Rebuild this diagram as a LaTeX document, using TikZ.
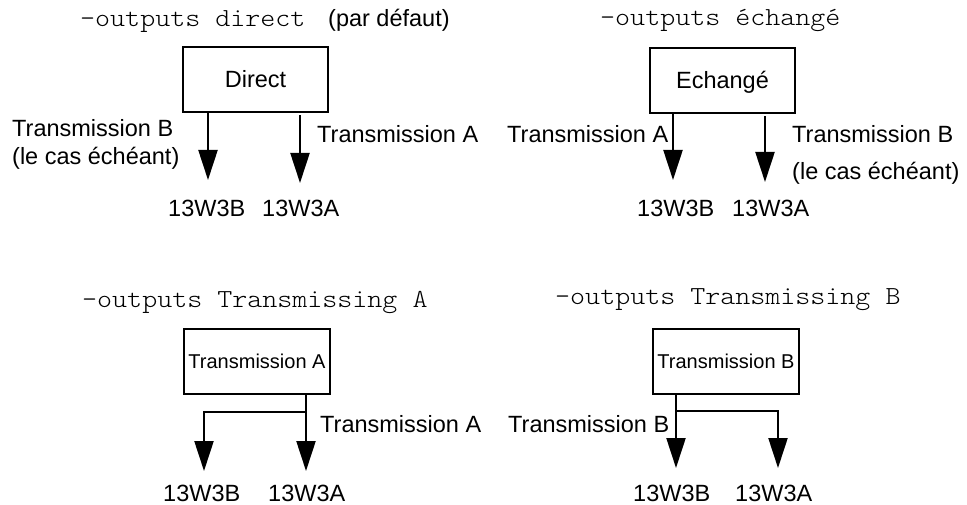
\documentclass[tikz,border=0pt]{standalone}
\usepackage{fontspec}
\setmainfont{Liberation Sans}
\newfontfamily\mono[FakeStretch=1.1]{lmmonolt10-regular.otf}
\usetikzlibrary{arrows.meta}
\begin{document}
\begin{tikzpicture}[x=1pt,y=-1pt,
  lbl/.style={anchor=base west,inner sep=0pt,font=\fontsize{23.5}{28}\selectfont},
  ttl/.style={anchor=base west,inner sep=0pt,font=\fontsize{26}{30}\mono},
  box/.style={draw,line width=2.2pt,inner sep=0pt,text height=16.8pt,text depth=0pt,
    minimum height=65pt,font=\fontsize{23.5}{28}\selectfont},
  smallbox/.style={box,text height=14.3pt,font=\fontsize{20}{24}\selectfont},
  arr/.style={line width=2.2pt,-{Triangle[length=30pt,width=19pt]}}]
\useasboundingbox (0,0) rectangle (967,505);

% ---------- top left ----------
\node[ttl] (t1) at (80,27) {-outputs direct};
\node[lbl] (t1b) at (328,27) {(par défaut)};
\node[box,minimum width=145pt] (b1) at (255.5,79.5) {Direct};
\coordinate (p1) at (208,180);
\coordinate (q1) at (300,183);
\draw[arr] (b1.south -| p1) -- (p1);
\draw[arr,shorten <=2pt] (b1.south -| q1) -- (q1);
\node[lbl] (l1a) at (12,137) {Transmission B};
\node[lbl] (l1b) at (12,165) {(le cas échéant)};
\node[lbl] (l1c) at (317,143) {Transmission A};
\node[lbl] (c1b) at (168,217) {13W3B};
\node[lbl] (c1a) at (262,217) {13W3A};

% ---------- top right ----------
\node[ttl] (t2) at (600,26) {-outputs échangé};
\node[box,minimum width=145pt] (b2) at (722.5,80.5) {Echangé};
\coordinate (p2) at (673,180);
\coordinate (q2) at (765,182);
\draw[arr] (b2.south -| p2) -- (p2);
\draw[arr,shorten <=2pt] (b2.south -| q2) -- (q2);
\node[lbl] (l2a) at (507,143) {Transmission A};
\node[lbl] (l2b) at (792,143) {Transmission B};
\node[lbl] (l2c) at (792,180) {(le cas échéant)};
\node[lbl] (c2b) at (637,217) {13W3B};
\node[lbl] (c2a) at (732,217) {13W3A};

% ---------- bottom left ----------
\node[ttl] (t3) at (82,307) {-outputs Transmissing A};
\node[smallbox,minimum width=146pt] (b3) at (257,361.5) {Transmission A};
\coordinate (p3) at (306,471);
\coordinate (j3) at (306,412);
\coordinate (q3) at (204,471);
\draw[arr] (b3.south -| p3) -- (p3);
\draw[arr] (j3) -| (q3);
\node[lbl] (l3a) at (320,432) {Transmission A};
\node[lbl] (c3b) at (163,501) {13W3B};
\node[lbl] (c3a) at (268,501) {13W3A};

% ---------- bottom right ----------
\node[ttl] (t4) at (555,305) {-outputs Transmissing B};
\node[smallbox,minimum width=146pt] (b4) at (726,361.5) {Transmission B};
\coordinate (p4) at (676,468);
\coordinate (j4) at (676,411);
\coordinate (q4) at (778,468);
\draw[arr] (b4.south -| p4) -- (p4);
\draw[arr] (j4) -| (q4);
\node[lbl] (l4a) at (508,432) {Transmission B};
\node[lbl] (c4b) at (633,501) {13W3B};
\node[lbl] (c4a) at (735,501) {13W3A};
\end{tikzpicture}
\end{document}
